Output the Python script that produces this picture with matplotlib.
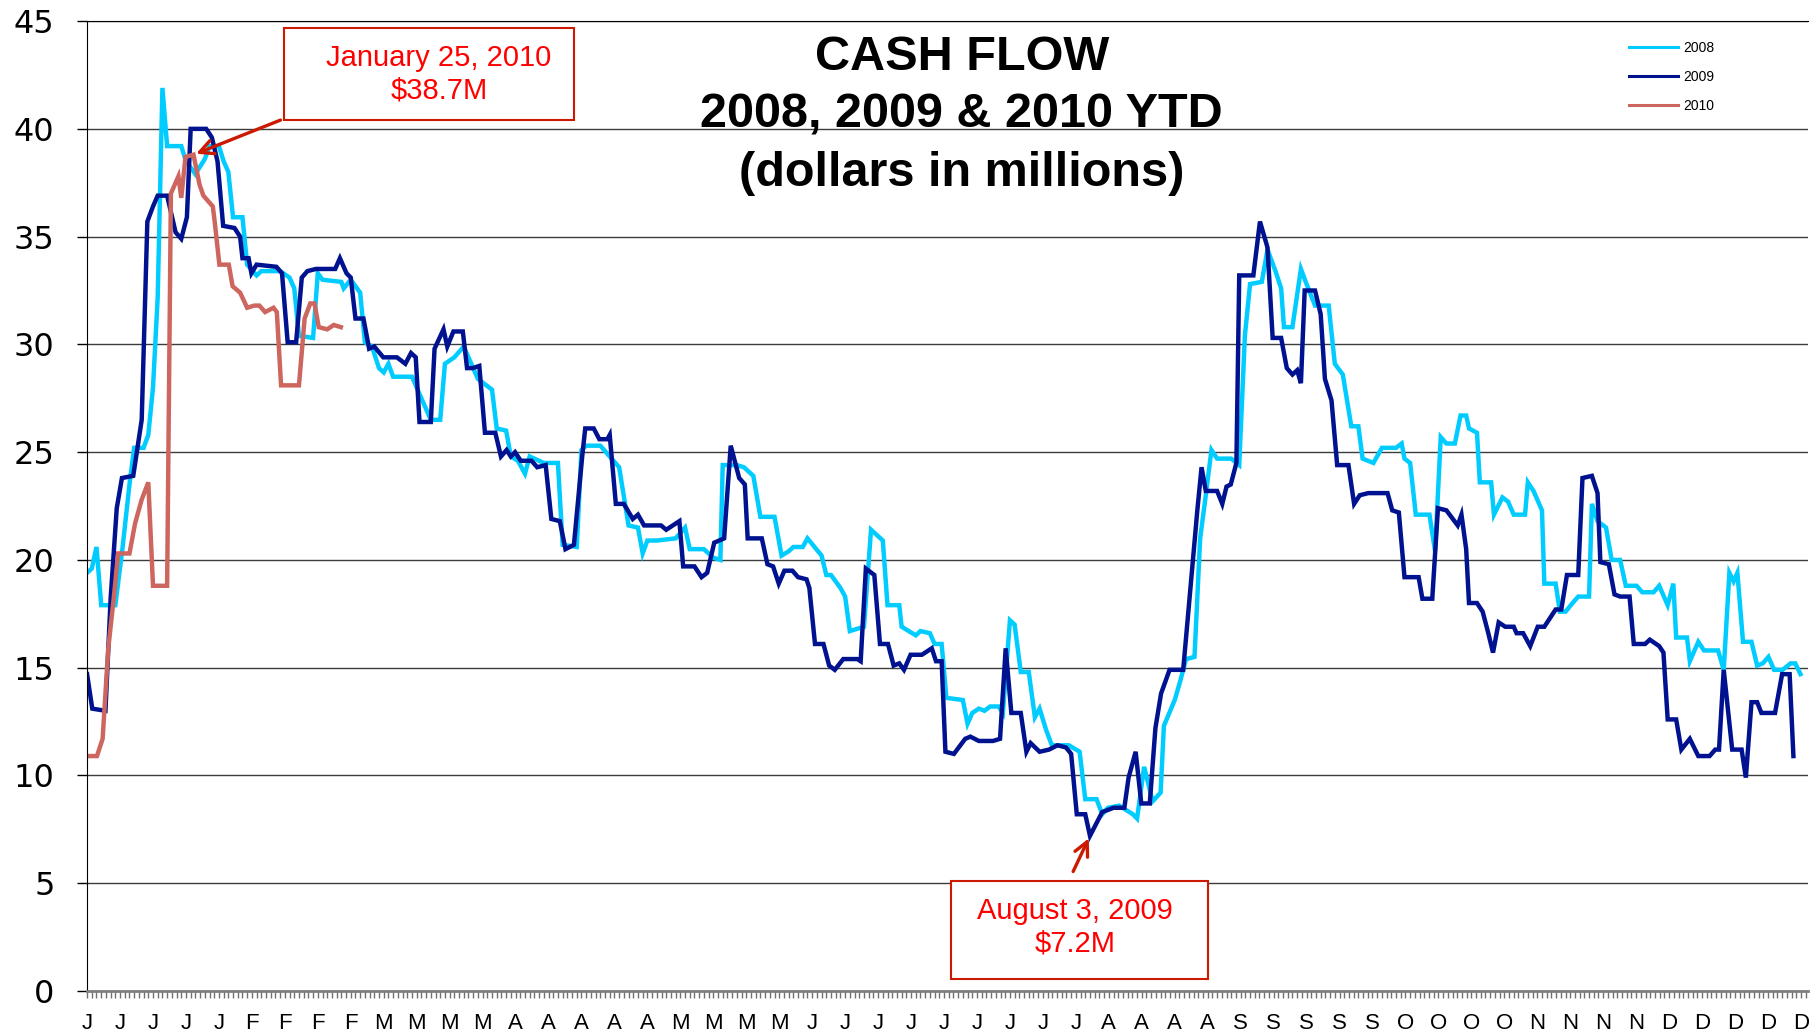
import matplotlib.pyplot as plt
from matplotlib.patches import Rectangle
import numpy as np

# day of year (0 = Jan 1) and cash in $ millions
days_2008 = [0, 1, 2, 3, 6, 7.5, 9, 10, 12, 13, 14, 15, 16, 17, 20, 21, 23, 25, 26, 28, 29, 30, 31, 33,
             34, 36, 37, 41, 43, 44, 45, 48, 49, 50, 54, 54.5, 56, 58, 59, 60.5, 62, 63, 64, 65, 69, 71,
             73, 75, 76, 78, 80, 81, 83, 86, 87, 89, 90, 91.5, 93, 94, 97, 100, 101, 104, 105, 106, 109,
             111, 113, 115, 117, 118, 119, 121, 125, 127, 128, 131, 133, 134.5, 135, 138, 139.5, 141.5,
             143, 146, 147.5, 149, 150, 152, 153, 154.5, 156, 157, 158, 160, 161, 162, 163.5, 165, 166.5,
             168, 169, 170, 172.5, 173, 176, 177, 179, 180, 181.5, 182.5, 186, 187, 188, 189.4, 190.6,
             191.8, 193.6, 194.5, 196, 197, 198.3, 200, 201.3, 202.3, 203.7, 204.9, 208.5, 210.8, 212,
             214.4, 215.6, 216.8, 219.2, 222.1, 223, 224.5, 226.3, 228, 228.7, 231, 232.2, 233.4, 235.2,
             236.4, 237.6, 238.8, 240, 243, 244.7, 245.9, 247, 249.5, 250.7, 252.4, 253.6, 254.2, 256,
             257.8, 259, 260.8, 263.7, 265, 266.7, 268.5, 270, 270.9, 273.2, 275, 278, 279.2, 279.8, 281,
             282.2, 285.1, 286.3, 287.5, 288.7, 290.5, 291.7, 292.9, 293.5, 295.2, 295.8, 298.2, 298.8,
             300.6, 301.8, 303, 305.4, 306, 307.2, 309, 309.5, 311.9, 312.8, 314, 315.5, 316.7, 319,
             319.6, 320.8, 322.6, 323.8, 325.6, 326.8, 329.1, 330.3, 332.7, 333.9, 335.7, 336.9, 337.5,
             339.8, 340.4, 342.2, 343.4, 346.4, 347.6, 348.8, 349.7, 350.5, 351.7, 353.5, 354.7, 355.9,
             357.1, 358.3, 360.1, 361.8, 362.8, 363.9]
cash_2008 = [19.4, 19.6, 20.6, 17.9, 17.9, 20.5, 23.5, 25.2, 25.2, 25.8, 28.0, 32.2, 41.9, 39.2, 39.2, 38.5,
             37.9, 38.6, 39.2, 39.2, 38.5, 38.0, 35.9, 35.9, 33.7, 33.2, 33.4, 33.4, 33.1, 32.6, 30.4, 30.3,
             33.3, 33.0, 32.9, 32.6, 33.0, 32.4, 30.1, 29.9, 28.9, 28.7, 29.1, 28.5, 28.5, 27.5, 26.5, 26.5,
             29.1, 29.4, 29.9, 29.4, 28.4, 27.9, 26.1, 26.0, 24.8, 24.6, 24.0, 24.8, 24.5, 24.5, 20.7, 20.6,
             25.1, 25.3, 25.3, 24.8, 24.3, 21.6, 21.5, 20.3, 20.9, 20.9, 21.0, 21.5, 20.5, 20.5, 20.1, 20.0,
             24.4, 24.4, 24.3, 23.9, 22.0, 22.0, 20.2, 20.4, 20.6, 20.6, 21.0, 20.6, 20.2, 19.3, 19.3, 18.7,
             18.3, 16.7, 16.8, 16.9, 21.4, 21.1, 20.9, 17.9, 17.9, 16.9, 16.5, 16.7, 16.6, 16.1, 16.1, 13.6,
             13.5, 12.4, 12.9, 13.1, 13.0, 13.2, 13.2, 12.9, 17.2, 17.0, 14.8, 14.8, 12.7, 13.1, 12.1, 11.4,
             11.4, 11.1, 8.9, 8.9, 8.2, 8.5, 8.6, 8.2, 8.0, 10.4, 8.8, 9.2, 12.3, 13.5, 14.4, 15.4, 15.5,
             21.0, 23.0, 25.1, 24.7, 24.7, 24.4, 30.4, 32.8, 32.9, 34.4, 33.4, 32.6, 30.8, 30.8, 33.5, 32.8,
             31.8, 31.8, 29.1, 28.6, 26.2, 26.2, 24.7, 24.5, 25.2, 25.2, 25.4, 24.7, 24.5, 22.1, 22.1, 20.4,
             25.7, 25.4, 25.4, 26.7, 26.7, 26.1, 25.9, 23.6, 23.6, 22.1, 22.9, 22.7, 22.1, 22.1, 23.6, 23.2,
             22.3, 18.9, 18.9, 17.6, 17.6, 18.0, 18.3, 18.3, 22.6, 21.8, 21.5, 20.0, 20.0, 18.8, 18.8, 18.5,
             18.5, 18.8, 17.9, 18.9, 16.4, 16.4, 15.3, 16.2, 15.8, 15.8, 14.9, 19.4, 19.0, 19.4, 16.2, 16.2,
             15.1, 15.2, 15.5, 14.9, 14.9, 15.2, 15.2, 14.7]

days_2009 = [0, 1.1, 3.9, 5, 6.3, 7.4, 9.8, 11.6, 12.8, 14, 15, 17, 18.8, 20, 21.2, 22, 25.3, 26.5, 27.7,
             28.9, 31.3, 32.5, 33, 34.3, 34.9, 36, 40.2, 41.4, 42.6, 44.4, 45.6, 46.8, 48.6, 52.7, 53.7,
             55.1, 56, 57, 58.7, 59.9, 61, 62.9, 65.8, 67.6, 68.8, 69.8, 70.6, 73, 73.8, 75.7, 76.5, 77.8,
             79.8, 80.7, 81.9, 83.3, 84.5, 86.7, 87.9, 89.1, 90, 90.9, 92.1, 94.4, 95.6, 97.4, 98.6, 100.4,
             101.6, 103.4, 105.2, 105.8, 107.6, 108.8, 110.5, 111, 112.3, 114, 115.9, 117, 118.3, 121.9,
             123, 125.8, 126.6, 129, 130.5, 131.7, 133.2, 135.3, 136.7, 138.5, 139.7, 140.3, 143.3, 144.5,
             145.7, 146.9, 148.1, 149.8, 151, 152.8, 153.4, 154.6, 156.4, 157.6, 158.8, 160.6, 163.6,
             164.3, 165.4, 167.2, 168.4, 170.1, 171.3, 172.5, 173.5, 174.9, 177.3, 179.4, 180.3, 181.5,
             182.3, 184.1, 186.5, 187.6, 189.4, 192.4, 193.9, 195.1, 196.3, 198.3, 199.5, 200.4, 202.3,
             204.3, 206.1, 207.9, 209, 210.2, 212, 213, 215.6, 218, 220.3, 221.2, 222.7, 223.9, 225.7,
             226.9, 228.1, 229.9, 232.8, 235.8, 236.7, 237.6, 240, 241.1, 242, 242.9, 244.1, 244.7, 247.7,
             249.1, 250.7, 251.8, 253.6, 254.8, 256, 257, 257.8, 258.6, 260.8, 262, 262.9, 264.3, 265.5,
             267.9, 269.1, 270.3, 272.1, 276.2, 277.2, 278.6, 279.8, 282.8, 283.6, 285.7, 286.9, 288.7,
             291.1, 291.9, 292.9, 293.5, 295.2, 296.4, 297.6, 298.6, 299.8, 301.2, 303, 303.6, 305, 306.5,
             308.1, 309.5, 310.7, 311.9, 313.1, 314.3, 316.7, 317.6, 319.6, 320.8, 321.4, 323.2, 324.4,
             325.6, 327.6, 328.5, 330.9, 331.9, 333.9, 334.8, 335.7, 337.5, 338.6, 340.4, 342.2, 344.6,
             345.8, 346.6, 347.6, 349.4, 351.4, 352.3, 353.5, 354.7, 355.6, 358.5, 360, 361.6, 362.4]
cash_2009 = [14.7, 13.1, 13.0, 18.2, 22.4, 23.8, 23.9, 26.5, 35.7, 36.4, 36.9, 36.9, 35.2, 34.9, 35.9, 40.0,
             40.0, 39.6, 38.5, 35.5, 35.4, 35.0, 34.0, 34.0, 33.3, 33.7, 33.6, 33.3, 30.1, 30.1, 33.1, 33.4,
             33.5, 33.5, 34.0, 33.3, 33.1, 31.2, 31.2, 29.8, 29.9, 29.4, 29.4, 29.1, 29.6, 29.4, 26.4, 26.4,
             29.8, 30.7, 29.9, 30.6, 30.6, 28.9, 28.9, 29.0, 25.9, 25.9, 24.8, 25.1, 24.8, 25.0, 24.6, 24.6,
             24.3, 24.4, 21.9, 21.8, 20.5, 20.7, 24.9, 26.1, 26.1, 25.6, 25.6, 25.8, 22.6, 22.6, 21.9, 22.1,
             21.6, 21.6, 21.4, 21.8, 19.7, 19.7, 19.2, 19.4, 20.8, 21.0, 25.3, 23.8, 23.5, 21.0, 21.0, 19.8,
             19.7, 18.9, 19.5, 19.5, 19.2, 19.1, 18.7, 16.1, 16.1, 15.1, 14.9, 15.4, 15.4, 15.3, 19.6, 19.3,
             16.1, 16.1, 15.1, 15.2, 14.9, 15.6, 15.6, 15.9, 15.3, 15.3, 11.1, 11.0, 11.7, 11.8, 11.6, 11.6,
             11.7, 15.9, 12.9, 12.9, 11.1, 11.5, 11.1, 11.2, 11.4, 11.3, 11.0, 8.2, 8.2, 7.2, 8.3, 8.5, 8.5,
             9.9, 11.1, 8.7, 8.7, 12.2, 13.8, 14.9, 14.9, 22.3, 24.3, 23.2, 23.2, 22.6, 23.4, 23.5, 24.5,
             33.2, 33.2, 35.7, 34.5, 30.3, 30.3, 28.9, 28.6, 28.8, 28.2, 32.5, 32.5, 31.4, 28.4, 27.4, 24.4,
             24.4, 22.6, 23.0, 23.1, 23.1, 22.3, 22.2, 19.2, 19.2, 18.2, 18.2, 22.4, 22.3, 21.6, 22.1, 20.5,
             18.0, 18.0, 17.6, 16.6, 15.7, 17.1, 16.9, 16.9, 16.6, 16.6, 16.0, 16.9, 16.9, 17.3, 17.7, 17.7,
             19.3, 19.3, 23.8, 23.9, 23.1, 19.9, 19.8, 18.4, 18.3, 18.3, 16.1, 16.1, 16.3, 16.0, 15.7, 12.6,
             12.6, 11.2, 11.7, 10.9, 10.9, 11.2, 11.2, 14.9, 11.2, 11.2, 9.9, 13.4, 13.4, 12.9, 12.9, 14.7,
             14.7, 10.9]

days_2010 = [0, 2.1, 3.3, 4.5, 5.7, 6.6, 9, 10.2, 11.6, 13, 14, 17, 17.8, 19.4, 20, 20.9, 22.6, 23.9, 24.7,
             26.7, 27.1, 28.1, 30.1, 30.9, 32.5, 34, 35.5, 36.6, 37.8, 39.6, 40.3, 41.2, 45, 46.2, 47.4,
             48.3, 49.2, 51, 52.4, 53.9]
cash_2010 = [10.9, 10.9, 11.7, 15.9, 18.3, 20.3, 20.3, 21.7, 22.8, 23.6, 18.8, 18.8, 37.0, 37.8, 36.8, 38.7,
             38.8, 37.4, 36.9, 36.4, 35.7, 33.7, 33.7, 32.7, 32.4, 31.7, 31.8, 31.8, 31.5, 31.7, 31.5, 28.1,
             28.1, 31.2, 31.9, 31.9, 30.8, 30.7, 30.9, 30.8]

# weekly category labels (month initials, every 7th day)
week_labels = list("JJJJJFFFFMMMMAAAAAMMMMJJJJJJJJJAAAASSSSSOOOONNNNDDDDD")

c2008 = '#00CCFF'
c2009 = '#00128F'
c2010 = '#CD665E'
red = '#FF0000'
dark_red = '#CC1A00'

fig = plt.figure(figsize=(18.18, 10.34), dpi=100)
ax = fig.add_axes([0.0479, 0.0416, 0.9466, 0.938])

ax.plot(days_2008, cash_2008, color=c2008, lw=3.2, label='2008', solid_joinstyle='miter')
ax.plot(days_2009, cash_2009, color=c2009, lw=3.2, label='2009', solid_joinstyle='miter')
ax.plot(days_2010, cash_2010, color=c2010, lw=3.2, label='2010', solid_joinstyle='miter')

ax.set_xlim(0, 365.5)
ax.set_ylim(0, 45)

ax.set_yticks(np.arange(0, 46, 5))
ax.set_yticklabels([str(v) for v in range(0, 46, 5)], fontsize=23, family='DejaVu Sans')
ax.tick_params(axis='y', direction='out', length=7.5, width=1, color='black', pad=16)

ax.set_xticks(np.arange(0, 7 * len(week_labels), 7))
ax.set_xticklabels(week_labels, fontsize=16, family='Liberation Sans')
ax.set_xticks(np.arange(0, 366), minor=True)
ax.tick_params(axis='x', which='both', direction='out', length=5, width=1, color='#707070', pad=11)

ax.yaxis.grid(True, color='#3c3c3c', lw=1)
ax.set_axisbelow(True)
ax.spines['right'].set_visible(False)
ax.spines['top'].set_color('black')
ax.spines['left'].set_color('black')
ax.spines['bottom'].set_color('#808080')
ax.spines['bottom'].set_linewidth(2)

leg = fig.legend(loc='upper left', bbox_to_anchor=(0.896, 0.960), frameon=False,
                 prop={'family': 'Liberation Sans', 'size': 10}, handlelength=3.5,
                 handletextpad=0.4, labelspacing=1.05, borderpad=0, borderaxespad=0)
for ln in leg.get_lines():
    ln.set_linewidth(2.2)

fig.text(0.529, 0.8883, 'CASH FLOW\n2008, 2009 & 2010 YTD\n(dollars in millions)',
         ha='center', va='center', fontsize=35, fontweight='bold', family='Liberation Sans',
         linespacing=1.38)

# callout boxes
arrow = dict(arrowstyle='->,head_length=1.0,head_width=0.5', color=dark_red, lw=2.4)

ax.add_patch(Rectangle((0.1145, 0.898), 0.1685, 0.095, transform=ax.transAxes,
                       facecolor='white', edgecolor=dark_red, lw=1.5, zorder=5))
ax.text(0.2045, 0.9454, 'January 25, 2010\n$38.7M', transform=ax.transAxes, ha='center',
        va='center', color=red, fontsize=21, family='Liberation Sans', zorder=6)
i_max = int(np.argmax(cash_2010))
ax.annotate('', xy=(days_2010[i_max], cash_2010[i_max]), xytext=(0.1139, 0.899),
            textcoords='axes fraction', zorder=7, arrowprops=arrow)

ax.add_patch(Rectangle((0.502, 0.0124), 0.1494, 0.101, transform=ax.transAxes,
                       facecolor='white', edgecolor=dark_red, lw=1.5, zorder=5))
ax.text(0.574, 0.0655, 'August 3, 2009\n$7.2M', transform=ax.transAxes, ha='center',
        va='center', color=red, fontsize=21, family='Liberation Sans', zorder=6)
i_min = int(np.argmin(cash_2009))
ax.annotate('', xy=(days_2009[i_min], cash_2009[i_min]), xytext=(0.5723, 0.1206),
            textcoords='axes fraction', zorder=7, arrowprops=arrow)

fig.savefig('out.png', dpi=100)
